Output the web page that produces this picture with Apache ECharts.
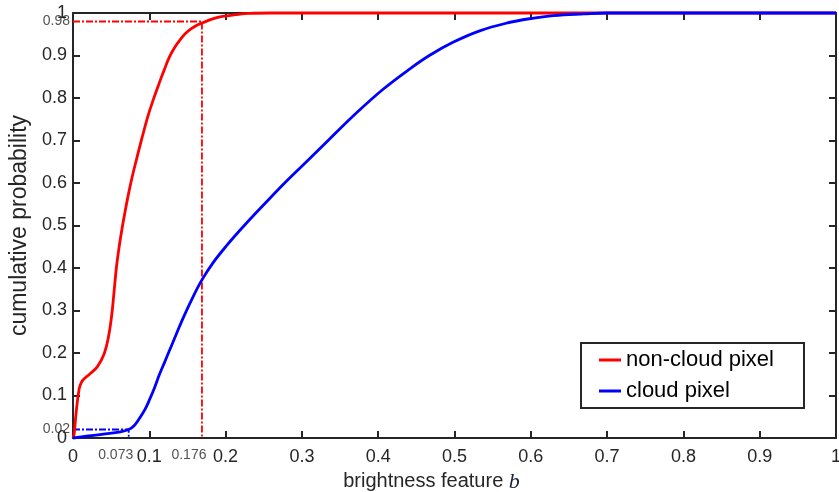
<!DOCTYPE html>
<html>
<head>
<meta charset="utf-8">
<script src="https://cdn.jsdelivr.net/npm/echarts@6/dist/echarts.min.js"></script>
<style>
  html, body { margin: 0; padding: 0; background: #fff; }
  #chart { width: 839px; height: 492px; }
</style>
</head>
<body>
<div id="chart"></div>
<script>
(function () {
    "use strict";

    // ---- Data ----
    const nonCloudX = [0, 0.0015, 0.004, 0.008, 0.011, 0.015, 0.021, 0.032, 0.041, 0.0465, 0.051, 0.054, 0.057, 0.0605, 0.064,
        0.068, 0.072, 0.077, 0.083, 0.09, 0.098, 0.105, 0.113, 0.12, 0.126, 0.133, 0.14, 0.147, 0.155, 0.163, 0.17,
        0.183, 0.196, 0.213, 0.231, 0.26, 1];
    const nonCloudY = [0, 0.01, 0.058, 0.115, 0.131, 0.14, 0.149, 0.168, 0.199, 0.238, 0.293, 0.348, 0.403, 0.45, 0.49,
        0.53, 0.568, 0.61, 0.654, 0.703, 0.756, 0.795, 0.835, 0.868, 0.895, 0.918, 0.936, 0.951, 0.963, 0.972, 0.977,
        0.986, 0.992, 0.996, 0.999, 1, 1];

    const cloudX = [0, 0.02, 0.04, 0.06, 0.073, 0.08, 0.087, 0.094, 0.1, 0.107, 0.113, 0.12, 0.126, 0.133, 0.144, 0.157,
        0.169, 0.183, 0.201, 0.223, 0.249, 0.279, 0.31, 0.336, 0.371, 0.406, 0.441, 0.467, 0.498, 0.533, 0.568, 0.6,
        0.63, 0.67, 0.7, 1];
    const cloudY = [0, 0.005, 0.009, 0.014, 0.02, 0.029, 0.046, 0.066, 0.089, 0.119, 0.148, 0.178, 0.204, 0.234, 0.281, 0.331,
        0.372, 0.411, 0.452, 0.497, 0.547, 0.603, 0.657, 0.703, 0.764, 0.82, 0.868, 0.9, 0.931, 0.958, 0.976, 0.987,
        0.994, 0.998, 1, 1];

    // dash-dot guide lines: [x, y] corner of each guide
    const redGuide = [0.169, 0.98];
    const blueGuide = [0.073, 0.02];

    // small annotation labels
    const yNoteValues = [0.98, 0.02];
    const yNoteText = ["0.98", "0.02"];
    const xNoteValues = [0.073, 0.169];
    const xNoteText = ["0.073", "0.176"];

    const seriesNames = ["non-cloud pixel", "cloud pixel"];
    const TXT = "#262626";
    const FONT = "Liberation Sans";

    const zip = (xs, ys) => xs.map((x, i) => [x, ys[i]]);
    const guide = g => [[0, g[1]], [g[0], g[1]], [g[0], 0]];

    const valueAxis = (extra) => Object.assign({
        type: "value",
        min: 0, max: 1, interval: 0.1,
        axisLine: { show: true, onZero: false, lineStyle: { color: TXT, width: 2 } },
        axisTick: { show: true, inside: true, length: 7, lineStyle: { color: TXT, width: 2 } },
        splitLine: { show: false }
    }, extra);

    const chart = echarts.init(document.getElementById("chart"), null, { renderer: "canvas" });

    chart.setOption({
        animation: false,
        backgroundColor: "#fff",
        textStyle: { fontFamily: FONT, color: TXT },
        grid: { left: 73, right: 3, top: 13, bottom: 54, containLabel: false, outerBoundsMode: "none" },
        legend: {
            data: seriesNames,
            orient: "vertical",
            left: 581, top: 343,
            padding: [6, 30, 6, 18],
            itemGap: 9,
            itemWidth: 22, itemHeight: 3,
            icon: "rect",
            backgroundColor: "#fff",
            borderColor: TXT, borderWidth: 2,
            textStyle: { fontFamily: FONT, fontSize: 22, color: "#000" }
        },
        xAxis: [
            valueAxis({
                position: "bottom",
                name: "brightness feature {it|b}",
                nameLocation: "middle",
                nameGap: 30,
                nameTextStyle: {
                    fontFamily: FONT, fontSize: 20, color: TXT, padding: [0, 46, 0, 0],
                    rich: { it: { fontFamily: "Liberation Serif", fontStyle: "italic", fontSize: 22, color: "#1b2238" } }
                },
                axisLabel: { fontFamily: FONT, fontSize: 18, color: TXT, margin: 10 }
            }),
            valueAxis({ position: "top", axisLabel: { show: false } })
        ],
        yAxis: [
            valueAxis({
                position: "left",
                name: "cumulative probability",
                nameLocation: "middle",
                nameGap: 41,
                nameTextStyle: { fontFamily: FONT, fontSize: 23, color: TXT },
                axisLabel: { fontFamily: FONT, fontSize: 18, color: TXT, margin: 6 }
            }),
            valueAxis({ position: "right", axisLabel: { show: false } })
        ],
        series: [
            {
                name: "redGuide", type: "line", data: guide(redGuide),
                symbol: "none", silent: true, clip: false,
                lineStyle: { color: "#ff0000", width: 1.8, type: [7, 2, 2, 2] }
            },
            {
                name: "blueGuide", type: "line", data: guide(blueGuide),
                symbol: "none", silent: true, clip: false,
                lineStyle: { color: "#0000ff", width: 1.8, type: [7, 2, 2, 2] }
            },
            {
                name: seriesNames[0], type: "line", data: zip(nonCloudX, nonCloudY),
                symbol: "none", smooth: 0.4, clip: false,
                itemStyle: { color: "#ff0000" },
                lineStyle: { color: "#ff0000", width: 2.8 }
            },
            {
                name: seriesNames[1], type: "line", data: zip(cloudX, cloudY),
                symbol: "none", smooth: 0.4, clip: false,
                itemStyle: { color: "#0000ff" },
                lineStyle: { color: "#0000ff", width: 2.8 }
            },
            {
                name: "yNotes", type: "scatter", symbolSize: 0, silent: true, clip: false,
                data: yNoteValues.map((v, i) => ({ value: [0, v], label: { formatter: yNoteText[i] } })),
                label: { show: true, position: "left", distance: 3, fontFamily: FONT, fontSize: 14, color: TXT }
            },
            {
                name: "xNotes", type: "scatter", symbolSize: 0, silent: true, clip: false,
                data: xNoteValues.map((v, i) => ({ value: [v, 0], label: { formatter: xNoteText[i] } })),
                label: { show: true, position: "bottom", distance: 10, offset: [-13, 0], fontFamily: FONT, fontSize: 14, color: TXT }
            }
        ]
    });
})();
</script>
</body>
</html>
